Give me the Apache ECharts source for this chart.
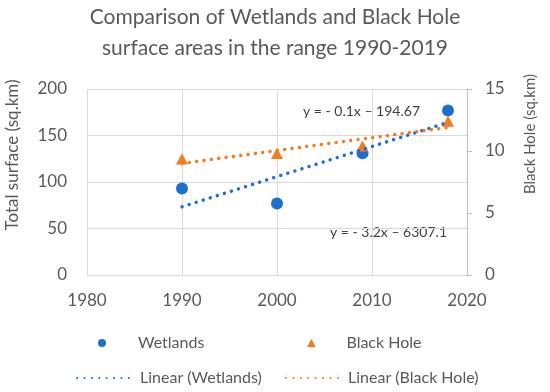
<!DOCTYPE html>
<html>
<head>
<meta charset="utf-8">
<script src="https://cdn.jsdelivr.net/npm/echarts@6/dist/echarts.min.js"></script>
<style>
html,body{margin:0;padding:0;background:#fff;}
#c{width:550px;height:392px;}
</style>
</head>
<body>
<div id="c"></div>
<script>
// ---- data ----
const years = [1990, 2000, 2009, 2018];
const wetlands = [93, 77, 131, 177];          // Total surface (sq.km), left axis
const blackHole = [9.35, 9.8, 10.4, 12.4];    // Black Hole (sq.km), right axis
const trendYears = [1990, 2018];
const wetlandsTrend = [73.3, 164.1];
const blackHoleTrend = [9.0, 11.9];
const xTicks = [1980, 1990, 2000, 2010, 2020];
const leftTicks = [0, 50, 100, 150, 200];
const rightTicks = [0, 5, 10, 15];
const titleText = 'Comparison of Wetlands and Black Hole\nsurface areas in the range 1990-2019';
const eqBlack = 'y = - 0.1x \u2013 194.67';
const eqWet = 'y = - 3.2x \u2013 6307.1';

const FONT = 'Lato, "Open Sans", sans-serif';
const BLUE = '#1c6fcc';
const ORANGE = '#f47b20';
const GRID = '#d9d9d9';
const TXT = '#595959';

const pair = (xs, ys) => xs.map((x, i) => [x, ys[i]]);
const dotted = { width: 3.4, type: [0.1, 7.3], cap: 'round' };

const CIRCLE_ICON = 'path://M5,0 A5,5 0 1,1 4.99,0 Z';
const TRI_ICON = 'path://M5,0 L10,9 L0,9 Z';

const chart = echarts.init(document.getElementById('c'), null, { renderer: 'canvas' });
const legendBase = (pad) => ({
  itemHeight: 8, itemGap: 0, padding: 0, symbolKeepAspect: true,
  textStyle: { color: TXT, fontSize: 16, fontFamily: FONT, padding: [0, 0, 0, pad] },
  selectedMode: false
});
const noSymbol = { color: 'rgba(0,0,0,0)', borderWidth: 0 };
chart.setOption({
  animation: false,
  backgroundColor: '#fff',
  title: {
    text: titleText, left: 'center', top: -3,
    textStyle: { color: TXT, fontSize: 21, fontWeight: 'normal', fontFamily: FONT, lineHeight: 31 }
  },
  grid: { left: 87, right: 83, top: 89, bottom: 117 },
  xAxis: {
    type: 'value', min: xTicks[0], max: xTicks[xTicks.length - 1], interval: 10,
    axisLine: { show: true, lineStyle: { color: GRID, width: 1 } },
    axisTick: { show: false },
    splitLine: { show: true, lineStyle: { color: GRID, width: 1 } },
    axisLabel: { color: TXT, fontSize: 17, fontFamily: FONT, margin: 17, formatter: v => String(v) }
  },
  yAxis: [
    {
      type: 'value', min: leftTicks[0], max: leftTicks[leftTicks.length - 1], interval: 50,
      axisLine: { show: false }, axisTick: { show: false },
      splitLine: { show: true, lineStyle: { color: GRID, width: 1 } },
      axisLabel: { color: TXT, fontSize: 17, fontFamily: FONT, margin: 20 }
    },
    {
      type: 'value', position: 'right', min: rightTicks[0], max: rightTicks[rightTicks.length - 1], interval: 5,
      axisLine: { show: true, lineStyle: { color: '#bfbfbf', width: 1 } },
      axisTick: { show: true, inside: false, length: 5, lineStyle: { color: '#bfbfbf' } },
      splitLine: { show: false },
      axisLabel: { color: TXT, fontSize: 17, fontFamily: FONT, margin: 18 }
    }
  ],
  legend: [
    Object.assign({ data: [{ name: 'Wetlands', icon: CIRCLE_ICON }], left: 98, top: 335, itemWidth: 10 }, legendBase(26)),
    Object.assign({ data: [{ name: 'Black Hole', icon: TRI_ICON }], left: 307, top: 335, itemWidth: 10 }, legendBase(25)),
    Object.assign({ data: [{ name: 'Linear (Wetlands)', itemStyle: noSymbol }], left: 76, top: 370, itemWidth: 55 }, legendBase(3)),
    Object.assign({ data: [{ name: 'Linear (Black Hole)', itemStyle: noSymbol }], left: 285, top: 370, itemWidth: 55 }, legendBase(2))
  ],
  series: [
    {
      name: 'Wetlands', type: 'scatter', yAxisIndex: 0,
      data: pair(years, wetlands), symbol: 'circle', symbolSize: 12,
      itemStyle: { color: BLUE, opacity: 1 }, z: 2
    },
    {
      name: 'Black Hole', type: 'scatter', yAxisIndex: 1,
      data: pair(years, blackHole), symbol: 'triangle', symbolSize: [12, 11],
      itemStyle: { color: ORANGE, opacity: 1 }, z: 3
    },
    {
      name: 'Linear (Wetlands)', type: 'line', yAxisIndex: 0,
      data: pair(trendYears, wetlandsTrend), symbol: 'none',
      lineStyle: Object.assign({ color: BLUE }, dotted), itemStyle: { color: BLUE }, z: 4
    },
    {
      name: 'Linear (Black Hole)', type: 'line', yAxisIndex: 1,
      data: pair(trendYears, blackHoleTrend), symbol: 'none',
      lineStyle: Object.assign({ color: ORANGE }, dotted), itemStyle: { color: ORANGE }, z: 4
    }
  ],
  graphic: [
    { type: 'text', left: 303, top: 104, style: { text: eqBlack, fill: '#404040', font: '14px ' + FONT } },
    { type: 'text', left: 330, top: 225, style: { text: eqWet, fill: '#404040', font: '14px ' + FONT } },
    { type: 'text', x: 13, y: 155, rotation: Math.PI / 2,
      style: { text: 'Total surface (sq.km)', fill: TXT, font: '17px ' + FONT, align: 'center', verticalAlign: 'middle' } },
    { type: 'text', x: 530, y: 134, rotation: Math.PI / 2,
      style: { text: 'Black Hole (sq.km)', fill: TXT, font: '15px ' + FONT, align: 'center', verticalAlign: 'middle' } }
  ]
});
</script>
</body>
</html>
